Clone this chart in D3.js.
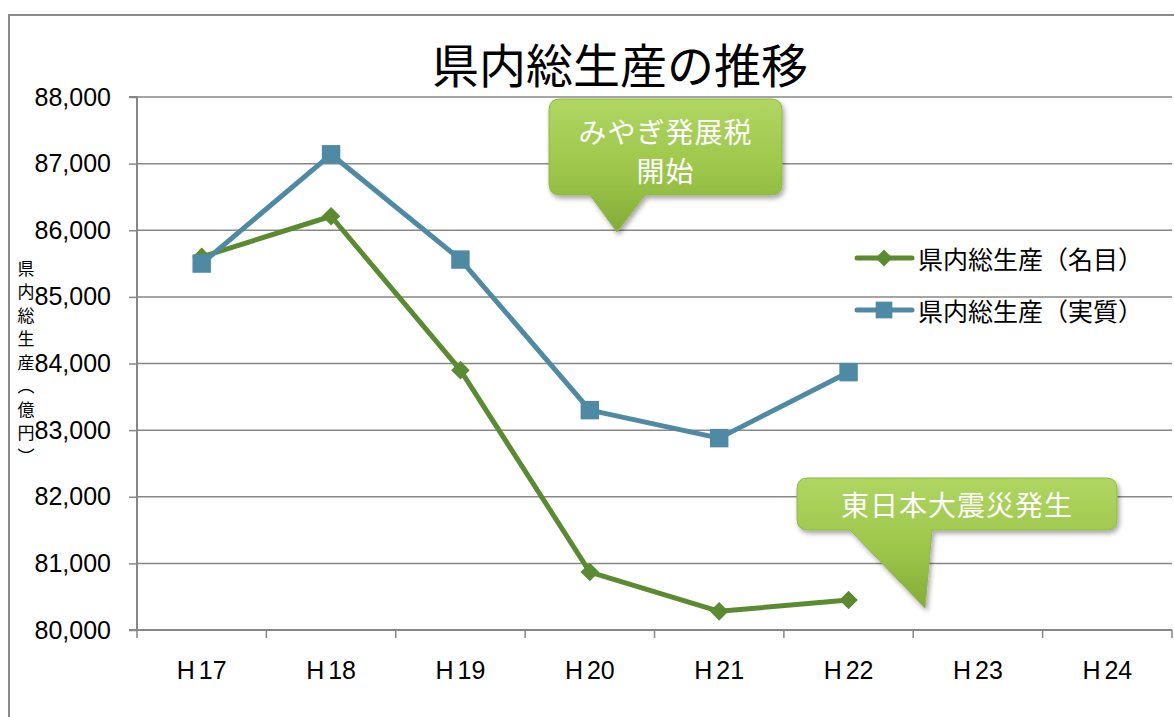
<!DOCTYPE html>
<html><head><meta charset="utf-8">
<script src="https://cdn.jsdelivr.net/npm/d3@7"></script>
<style>body{margin:0;background:#fff} svg{display:block}</style>
</head><body><svg id="c" width="1174" height="717"></svg>
<script>
const categories = ["H17","H18","H19","H20","H21","H22","H23","H24"];
const nominal = [85600, 86210, 83900, 80870, 80280, 80450, null, null];
const real = [85500, 87140, 85560, 83300, 82880, 83870, null, null];
const seriesNames = ["県内総生産（名目）", "県内総生産（実質）"];
const yTicks = [80000, 81000, 82000, 83000, 84000, 85000, 86000, 87000, 88000];
const titleText = "県内総生産の推移";
const yLabelText = "県内総生産（億円）";
const callout1Lines = ["みやぎ発展税", "開始"];
const callout2Lines = ["東日本大震災発生"];

const svg = d3.select("#c");
const JP = "'Noto Sans CJK JP', 'Noto Sans', sans-serif";
const NUM = "'Liberation Sans', Arial, sans-serif";
const gridColor = "#878787";
const green = "#5b8b30", blue = "#4f8aa5";

const L = 137, R = 1172, T = 97, B = 630;
const x = d3.scaleBand().domain(categories).range([L, R]);
const y = d3.scaleLinear().domain([80000, 88000]).range([B, T]);
const cx = c => x(c) + x.bandwidth() / 2;

// outer frame
svg.append("path").attr("d", "M9,717 V15 H1174").attr("fill", "none").attr("stroke", "#8a8a8a").attr("stroke-width", 2);

// defs
const defs = svg.append("defs");
const grad = defs.append("linearGradient").attr("id", "cg").attr("x1", 0).attr("y1", 0).attr("x2", 0).attr("y2", 1);
grad.append("stop").attr("offset", "0%").attr("stop-color", "#b0d662");
grad.append("stop").attr("offset", "55%").attr("stop-color", "#9cc64a");
grad.append("stop").attr("offset", "100%").attr("stop-color", "#84ac36");
const f = defs.append("filter").attr("id", "sh").attr("x", "-20%").attr("y", "-20%").attr("width", "140%").attr("height", "150%");
f.append("feDropShadow").attr("dx", 2).attr("dy", 3).attr("stdDeviation", 2.5).attr("flood-color", "#000").attr("flood-opacity", 0.35);

// gridlines
svg.append("g").selectAll("line").data(yTicks).join("line")
  .attr("x1", L).attr("x2", R).attr("y1", d => y(d)).attr("y2", d => y(d))
  .attr("stroke", gridColor).attr("stroke-width", 1.5);

// y axis
const ya = svg.append("g").attr("transform", `translate(${L},0)`)
  .call(d3.axisLeft(y).tickValues(yTicks).tickFormat(d3.format(",")).tickSize(8).tickPadding(18));
ya.select(".domain").attr("stroke", gridColor).attr("stroke-width", 2).attr("d", `M-8,${B}H0V${T}H-8`);
ya.selectAll(".tick line").attr("stroke", gridColor).attr("stroke-width", 1.5);
ya.selectAll(".tick text").attr("font-family", NUM).attr("font-size", 25).attr("fill", "#000");

// x axis
const xa = svg.append("g").attr("transform", `translate(0,${B})`);
xa.append("line").attr("x1", L).attr("x2", R).attr("stroke", gridColor).attr("stroke-width", 2);
xa.selectAll("line.t").data(categories.concat(["_end"])).join("line").attr("class", "t")
  .attr("x1", (d, i) => i < categories.length ? x(d) : R).attr("x2", (d, i) => i < categories.length ? x(d) : R)
  .attr("y1", 0).attr("y2", 8).attr("stroke", gridColor).attr("stroke-width", 1.5);
const xl = xa.selectAll("text").data(categories).join("text")
  .attr("x", d => cx(d)).attr("y", 49).attr("text-anchor", "middle")
  .attr("font-family", NUM).attr("font-size", 25).attr("fill", "#000");
xl.append("tspan").text(d => d.slice(0, 1));
xl.append("tspan").attr("dx", 4).text(d => d.slice(1));

// title
svg.append("text").attr("x", 620).attr("y", 62).attr("text-anchor", "middle").attr("dominant-baseline", "central")
  .attr("font-family", JP).attr("font-size", 47).attr("fill", "#000").text(titleText);

// y label vertical
svg.append("text").attr("x", 26).attr("y", 260)
  .style("writing-mode", "vertical-rl").attr("font-family", JP).attr("font-size", 17)
  .attr("letter-spacing", 6.5).attr("fill", "#000").text(yLabelText);

// series
function drawSeries(vals, color, marker) {
  const pts = categories.map((c, i) => ({ c, v: vals[i] })).filter(d => d.v != null);
  svg.append("path").datum(pts)
    .attr("d", d3.line().x(d => cx(d.c)).y(d => y(d.v)))
    .attr("fill", "none").attr("stroke", color).attr("stroke-width", 5).attr("stroke-linejoin", "round");
  svg.append("g").selectAll("path").data(pts).join("path")
    .attr("transform", d => `translate(${cx(d.c)},${y(d.v)})`)
    .attr("d", d3.symbol().type(marker).size(marker === d3.symbolDiamond2 ? 220 : 340)())
    .attr("fill", color);
}
drawSeries(nominal, green, d3.symbolDiamond2);
drawSeries(real, blue, d3.symbolSquare);

// legend
const leg = [{ name: seriesNames[0], color: green, m: d3.symbolDiamond2, s: 180, y: 258 },
             { name: seriesNames[1], color: blue, m: d3.symbolSquare, s: 280, y: 310 }];
const lg = svg.append("g").selectAll("g").data(leg).join("g").attr("transform", d => `translate(0,${d.y})`);
lg.append("line").attr("x1", 857).attr("x2", 912).attr("stroke", d => d.color).attr("stroke-width", 5).attr("stroke-linecap", "round");
lg.append("path").attr("transform", "translate(884,0)").attr("d", d => d3.symbol().type(d.m).size(d.s)()).attr("fill", d => d.color);
lg.append("text").attr("x", 918).attr("dominant-baseline", "central").attr("font-family", JP).attr("font-size", 25).attr("fill", "#000").text(d => d.name);

// callouts
function callout(x0, y0, x1, y1, bx0, bx1, tx, ty, lines, ly, lh, fs) {
  const r = 11;
  const d = `M${x0 + r},${y0}H${x1 - r}Q${x1},${y0} ${x1},${y0 + r}V${y1 - r}Q${x1},${y1} ${x1 - r},${y1}H${bx1}L${tx},${ty}L${bx0},${y1}H${x0 + r}Q${x0},${y1} ${x0},${y1 - r}V${y0 + r}Q${x0},${y0} ${x0 + r},${y0}Z`;
  const g = svg.append("g");
  g.append("path").attr("d", d).attr("fill", "url(#cg)").attr("stroke", "#8fb847").attr("stroke-width", 1).attr("filter", "url(#sh)");
  g.selectAll("text").data(lines).join("text")
    .attr("x", (x0 + x1) / 2).attr("y", (t, i) => ly + i * lh).attr("text-anchor", "middle").attr("dominant-baseline", "central")
    .attr("font-family", JP).attr("font-size", fs).attr("fill", "#fff").attr("letter-spacing", 1).text(t => t);
}
callout(549, 99, 782, 195, 590, 645, 617, 232, callout1Lines, 131, 39, 28);
callout(797, 478, 1117, 530, 850, 932, 925, 608, callout2Lines, 504, 0, 28);
</script></body></html>
